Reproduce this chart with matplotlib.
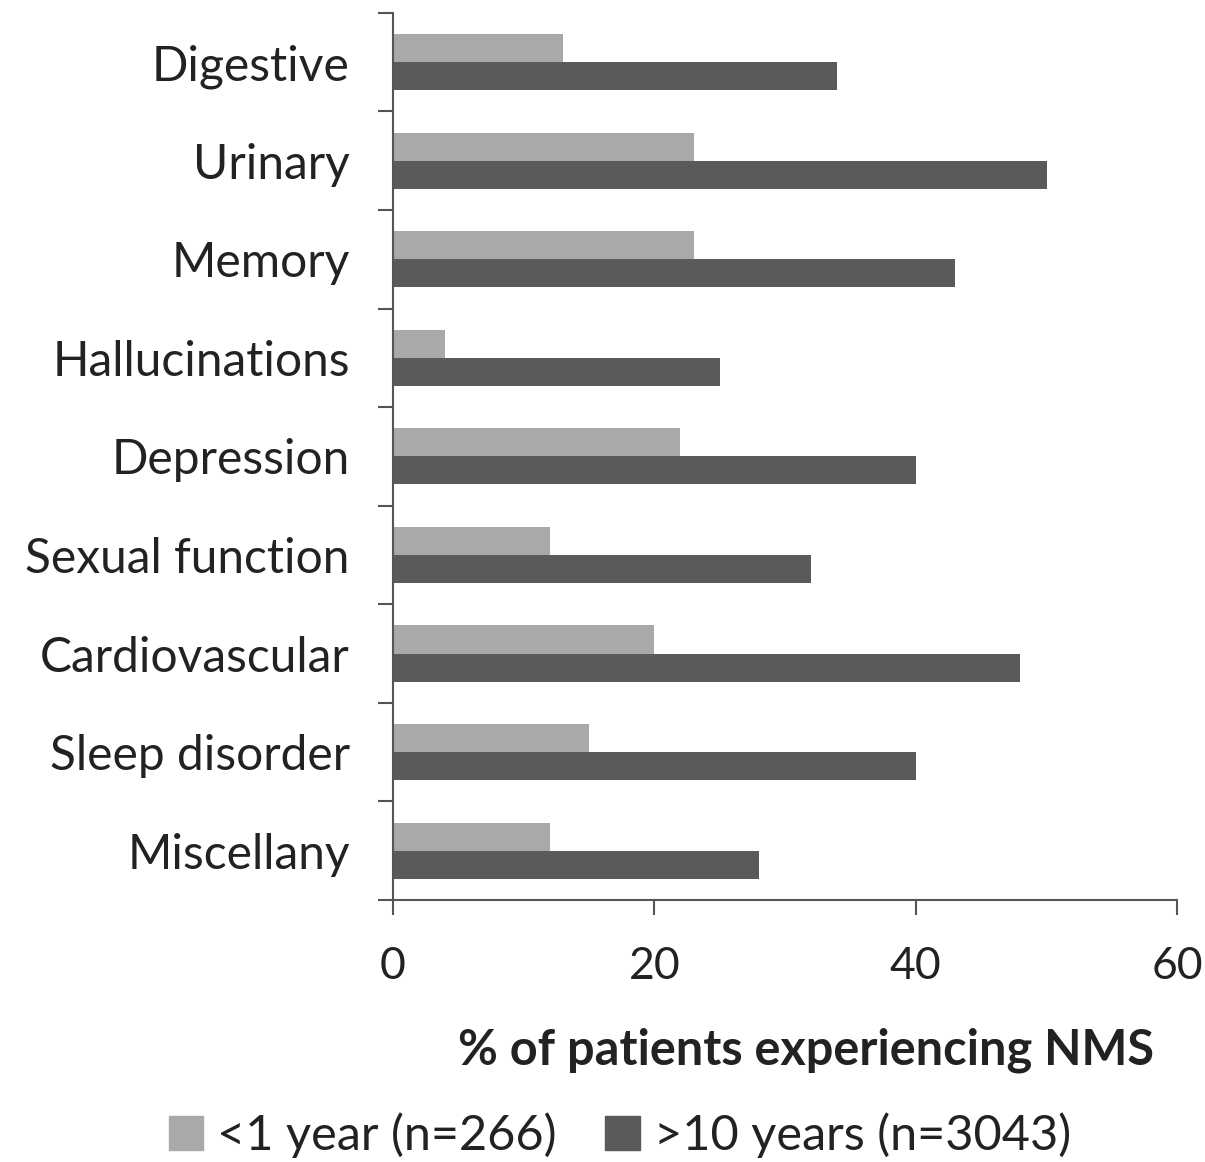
import matplotlib
matplotlib.use("Agg")
import matplotlib.pyplot as plt
from matplotlib.patches import Patch
import numpy as np

plt.rcParams['font.family'] = ['Lato', 'DejaVu Sans']

categories = ["Digestive", "Urinary", "Memory", "Hallucinations", "Depression",
              "Sexual function", "Cardiovascular", "Sleep disorder", "Miscellany"]
under_1yr = [13, 23, 23, 4, 22, 12, 20, 15, 12]
over_10yr = [34, 50, 43, 25, 40, 32, 48, 40, 28]
labels = ["<1 year (n=266)", ">10 years (n=3043)"]
xticks = [0, 20, 40, 60]

light = "#a9a9a9"
dark = "#5a5a5a"
txt = "#222222"
axc = "#555555"

fig = plt.figure(figsize=(12.05, 11.62), dpi=100)
ax = fig.add_axes([0.326, 0.2255, 0.651, 0.7635])

y = np.arange(len(categories))
h = 0.285
ax.barh(y - h / 2, under_1yr, height=h, color=light, label=labels[0])
ax.barh(y + h / 2, over_10yr, height=h, color=dark, label=labels[1])

ax.set_xlim(0, 60)
ax.set_ylim(len(categories) - 0.5, -0.5)
ax.set_xticks(xticks)
ax.set_yticks(y)
ax.set_yticklabels(categories)
ax.set_yticks(np.arange(-0.5, len(categories)), minor=True)

ax.tick_params(axis='y', which='major', length=0, pad=31, labelsize=34.5, labelcolor=txt)
ax.tick_params(axis='y', which='minor', length=11, width=1.5, color=axc, direction='out')
ax.tick_params(axis='x', length=11, width=1.5, color=axc, direction='out', pad=22,
               labelsize=32, labelcolor=txt)

for s in ['top', 'right']:
    ax.spines[s].set_visible(False)
for s in ['left', 'bottom']:
    ax.spines[s].set_color(axc)
    ax.spines[s].set_linewidth(1.5)

fig.text(806 / 1205, 1 - 1050 / 1162, "% of patients experiencing NMS",
         ha='center', va='center', fontsize=35, fontweight='bold', color=txt)

handles = [Patch(color=light), Patch(color=dark)]
fig.legend(handles, labels, loc='center', bbox_to_anchor=(620 / 1205, 1 - 1135 / 1162),
           ncol=2, frameon=False, fontsize=35, handlelength=0.7, handleheight=0.7,
           handletextpad=0.3, columnspacing=1.0, labelcolor=txt)

fig.savefig("out.png", dpi=100)
